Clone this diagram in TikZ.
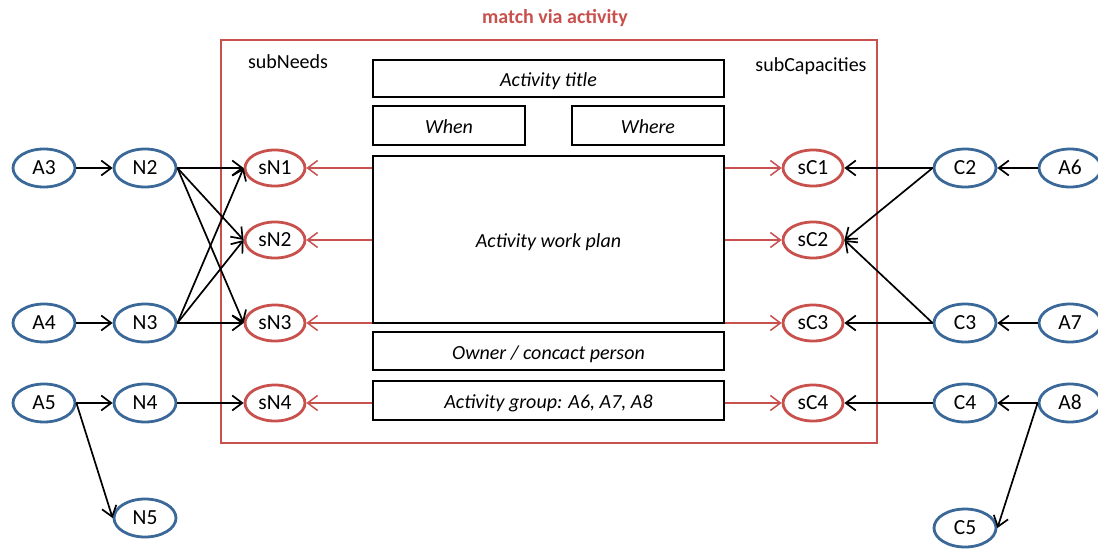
\documentclass[tikz,border=0pt]{standalone}
\usepackage{fontspec}
\setmainfont{Carlito}
\usetikzlibrary{arrows.meta,shapes.geometric}
\definecolor{nodeblue}{RGB}{58,104,152}
\definecolor{matchred}{RGB}{200,80,77}
\begin{document}
\begin{tikzpicture}[x=1pt,y=-1pt,
  every node/.style={font=\fontsize{20}{24}\selectfont,text height=12pt,text depth=0pt},
  outer/.style={ellipse,draw=nodeblue,line width=2.8pt,minimum width=62pt,minimum height=38pt,inner sep=0pt,font=\fontsize{21.5}{24}\selectfont},
  sub/.style={ellipse,draw=matchred,line width=2.8pt,minimum width=60pt,minimum height=36pt,inner sep=0pt,font=\fontsize{21.5}{24}\selectfont},
  field/.style={draw=black,line width=1.9pt,inner sep=0pt,text height=16pt,font=\fontsize{20}{24}\selectfont\itshape},
  link/.style={draw=black,line width=1.7pt,-{Straight Barb[length=10pt,width=15pt]}},
  redlink/.style={draw=matchred,line width=1.5pt,-{Straight Barb[length=10pt,width=15pt]}},
  caption/.style={inner sep=0pt}]
\useasboundingbox (0,0) rectangle (1098,552);

% activity frame and headings
\draw[matchred,line width=2.6pt] (221,40) rectangle (877,443);
\node[caption,text=matchred,font=\fontsize{20}{24}\selectfont\bfseries] (head) at (555,17) {match via activity};
\node[caption] (subneeds) at (288,62) {subNeeds};
\node[caption] (subcaps) at (811,65) {subCapacities};

% activity fields
\node[field,minimum width=351pt,minimum height=37pt] (title) at (548.5,78.5) {Activity title};
\node[field,minimum width=152pt,minimum height=39pt] (when) at (449,125.5) {When};
\node[field,minimum width=152pt,minimum height=39pt] (where) at (648,125.5) {Where};
\node[field,minimum width=351pt,minimum height=167pt] (plan) at (548.5,239.5) {Activity work plan};
\node[field,minimum width=351pt,minimum height=38pt] (owner) at (548.5,351) {Owner / concact person};
\node[field,minimum width=351pt,minimum height=39pt] (group) at (548.5,400.5) {Activity group: A6, A7, A8};

% sub-needs and sub-capacities
\node[sub] (sN1) at (275,168) {sN1};
\node[sub] (sN2) at (275,240) {sN2};
\node[sub] (sN3) at (275,323) {sN3};
\node[sub] (sN4) at (275,403) {sN4};
\node[sub] (sC1) at (813,168) {sC1};
\node[sub] (sC2) at (813,240) {sC2};
\node[sub] (sC3) at (813,323) {sC3};
\node[sub] (sC4) at (813,403) {sC4};

% needs side
\node[outer] (A3) at (44,168) {A3};
\node[outer] (N2) at (145,168) {N2};
\node[outer] (A4) at (44,323) {A4};
\node[outer] (N3) at (145,323) {N3};
\node[outer] (A5) at (44,403) {A5};
\node[outer] (N4) at (145,403) {N4};
\node[outer] (N5) at (145,518) {N5};

% capacities side
\node[outer] (C2) at (965,168) {C2};
\node[outer] (A6) at (1070,168) {A6};
\node[outer] (C3) at (965,323) {C3};
\node[outer] (A7) at (1070,323) {A7};
\node[outer] (C4) at (965,403) {C4};
\node[outer] (A8) at (1070,403) {A8};
\node[outer] (C5) at (965,528) {C5};

% activity feeds the sub-nodes
\foreach \s in {sN1,sN2,sN3} \draw[redlink] (plan.west |- \s) -- (\s);
\draw[redlink] (group.west |- sN4) -- (sN4);
\foreach \s in {sC1,sC2,sC3} \draw[redlink] (plan.east |- \s) -- (\s);
\draw[redlink] (group.east |- sC4) -- (sC4);

% needs links
\draw[link] (A3) -- (N2);
\draw[link] (A4) -- (N3);
\draw[link] (A5) -- (N4);
\draw[link] (A5.east) -- (N5.west);
\foreach \s in {sN1,sN2,sN3} {
  \draw[link] (N2.east) -- (\s.west);
  \draw[link] (N3.east) -- (\s.west);
}
\draw[link] (N4) -- (sN4);

% capacities links
\draw[link] (A6) -- (C2);
\draw[link] (A7) -- (C3);
\draw[link] (A8) -- (C4);
\draw[link] (A8.west) -- (C5.east);
\draw[link] (C2.west) -- (sC1.east);
\draw[link] (C2.west) -- (sC2.east);
\draw[link] (C3.west) -- (sC2.east);
\draw[link] (C3.west) -- (sC3.east);
\draw[link] (C4) -- (sC4);
\end{tikzpicture}
\end{document}
